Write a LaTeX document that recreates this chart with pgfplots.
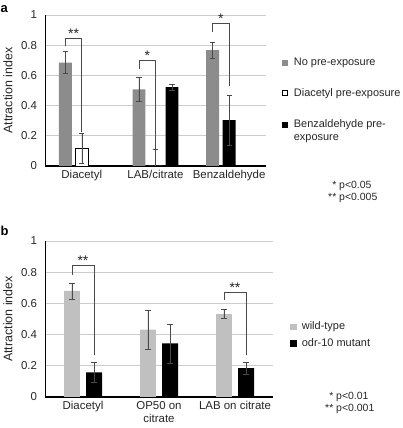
\documentclass[border=0pt]{standalone}
\usepackage{pgfplots}
\pgfplotsset{compat=1.18}
\usepackage{fontspec}
\setmainfont{Liberation Sans}
\definecolor{grayA}{HTML}{8C8C8C}
\definecolor{grayB}{HTML}{C0C0C0}
\definecolor{errc}{HTML}{4A4A4A}
\definecolor{gridc}{HTML}{CCCCCC}
\definecolor{txt}{HTML}{262626}
\tikzset{brk/.style={errc, line width=0.7pt},
  star/.style={anchor=base, inner sep=0pt, font=\fontsize{14}{16}\selectfont, text=txt}}
\pgfplotsset{
  mybase/.style={
    scale only axis,
    xmin=-0.5, xmax=2.5, ymin=0, ymax=1,
    ytick={0,0.2,0.4,0.6,0.8,1},
    ymajorgrids, grid style={gridc, line width=0.8pt},
    axis x line=bottom, axis y line=left, axis line style={-},
    x axis line style={line width=1.3pt, black},
    y axis line style={line width=0.7pt, black},
    major tick length=0pt,
    xtick={0,1,2},
    tick label style={font=\fontsize{11.5}{13.5}\selectfont, text=txt},
    /pgf/number format/assume math mode=true,
    yticklabel style={xshift=-4.5bp},
    xticklabel style={align=center, yshift=-1bp},
    clip mode=individual,
    legend cell align=left,
  },
  errb/.style={error bars/.cd, y dir=both, y explicit,
    error bar style={errc, line width=0.6pt},
    error mark=-,
    error mark options={errc, rotate=90, line width=0.6pt, mark size=2.6bp}},
  sq/.style={legend image code/.code={\filldraw[#1] (0bp,-2.6bp) rectangle (5.2bp,2.6bp);}},
  sqhi/.style={legend image code/.code={\path[draw=none, fill=none] (0bp,-9.2bp) -- (0bp,9.2bp);\filldraw[#1] (0bp,3.9bp) rectangle (5.2bp,9.1bp);}},
}
\begin{document}
\begin{tikzpicture}
\useasboundingbox (0,0) rectangle (403bp,428bp);
% ---------------- panel a
\begin{axis}[mybase, at={(45bp,262bp)}, anchor=south west,
  width=221bp, height=151bp,
  xticklabels={Diacetyl,LAB/citrate,Benzaldehyde},
  legend style={draw=none, fill=none, at={(axis description cs:1.072,0.73)}, anchor=north west,
    font=\fontsize{11}{13.5}\selectfont, text=txt, row sep=17.5bp, column sep=4bp, inner sep=0pt,
    cells={anchor=west, align=left}},
]
\addplot[ybar, bar shift=0pt, bar width=0.176, fill=grayA, draw=none, forget plot, errb]
  coordinates {(-0.224,0.685) +- (0,0.072) (0.776,0.508) +- (0,0.08) (1.776,0.768) +- (0,0.054)};
\addplot[ybar, bar shift=0pt, bar width=0.176, fill=white, draw=black, line width=0.6pt, forget plot, errb]
  coordinates {(0,0.118) +- (0,0.099) (1,0) += (0,0.108) -= (0,0)};
\addplot[ybar, bar shift=0pt, bar width=0.176, fill=black, draw=none, forget plot, errb]
  coordinates {(1.224,0.522) +- (0,0.018) (2,0.303) +- (0,0.168)};
\addlegendimage{sq={fill=grayA, draw=grayA}}
\addlegendentry{No pre-exposure}
\addlegendimage{sq={fill=white, draw=black, line width=0.6pt}}
\addlegendentry{Diacetyl pre-exposure}
\addlegendimage{sqhi={fill=black, draw=black}}
\addlegendentry{Benzaldehyde pre-\\exposure}
% brackets
\draw[brk] (axis cs:-0.224,0.795) |- (axis cs:0,0.846) -- (axis cs:0,0.225);
\node[star] at (axis cs:-0.112,0.846) {**};
\draw[brk] (axis cs:0.776,0.64) |- (axis cs:1,0.70) -- (axis cs:1,0.112);
\node[star] at (axis cs:0.888,0.70) {*};
\draw[brk] (axis cs:1.776,0.89) |- (axis cs:2,0.945) -- (axis cs:2,0.53);
\node[star] at (axis cs:1.888,0.945) {*};
\end{axis}
% ---------------- panel b
\begin{axis}[mybase, at={(45bp,31bp)}, anchor=south west,
  width=228bp, height=156bp,
  xticklabels={Diacetyl,{OP50 on\\citrate},LAB on citrate},
  legend style={draw=none, fill=none, at={(axis description cs:1.075,0.495)}, anchor=north west,
    font=\fontsize{11}{13.5}\selectfont, text=txt, row sep=3bp, column sep=4bp, inner sep=0pt,
    cells={anchor=west}},
]
\addplot[ybar, bar shift=0pt, bar width=0.21, fill=grayB, draw=none, forget plot, errb]
  coordinates {(-0.145,0.68) +- (0,0.052) (0.855,0.432) +- (0,0.124) (1.855,0.532) +- (0,0.028)};
\addplot[ybar, bar shift=0pt, bar width=0.21, fill=black, draw=none, forget plot, errb]
  coordinates {(0.145,0.158) +- (0,0.062) (1.145,0.343) +- (0,0.126) (2.145,0.185) +- (0,0.04)};
\addlegendimage{sq={fill=grayB, draw=grayB}}
\addlegendentry{wild-type}
\addlegendimage{sq={fill=black, draw=black}}
\addlegendentry{odr-10 mutant}
\draw[brk] (axis cs:-0.145,0.78) |- (axis cs:0.145,0.846) -- (axis cs:0.145,0.27);
\node[star] at (axis cs:0,0.846) {**};
\draw[brk] (axis cs:1.855,0.62) |- (axis cs:2.145,0.67) -- (axis cs:2.145,0.27);
\node[star] at (axis cs:2,0.67) {**};
\end{axis}
% ---------------- texts outside axes
\node[font=\bfseries\fontsize{13}{15}\selectfont, anchor=base west, inner sep=0] at (0.5bp,415bp) {a};
\node[font=\bfseries\fontsize{13}{15}\selectfont, anchor=base west, inner sep=0] at (0.5bp,192bp) {b};
\node[rotate=90, font=\fontsize{12.5}{14}\selectfont, text=txt, inner sep=0] at (8bp,337.5bp) {Attraction index};
\node[rotate=90, font=\fontsize{12.5}{14}\selectfont, text=txt, inner sep=0] at (8bp,109bp) {Attraction index};
\node[anchor=north west, inner sep=0, font=\fontsize{10.5}{12}\selectfont, text=txt] at (328bp,248bp)
  {\begin{tabular}{@{}r@{\ }l@{}}*&p<0.05\\{**}&p<0.005\end{tabular}};
\node[anchor=north west, inner sep=0, font=\fontsize{10.5}{12}\selectfont, text=txt] at (325bp,37bp)
  {\begin{tabular}{@{}r@{\ }l@{}}*&p<0.01\\{**}&p<0.001\end{tabular}};
\end{tikzpicture}
\end{document}
